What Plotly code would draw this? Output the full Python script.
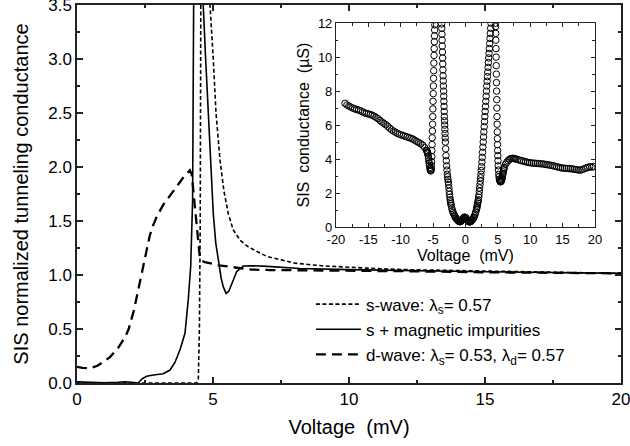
import plotly.graph_objects as go

# ---------------- main panel data (Voltage in mV, normalized conductance) ----------------
s_wave_v = [0, 4.40, 4.46, 4.50, 4.53, 4.55, 4.57, 4.60, 4.70, 4.80, 4.89, 5.01, 5.11, 5.26,
            5.40, 5.56, 5.74, 6.0, 6.3, 6.6, 7.0, 7.5, 8.0, 9.0, 10.0, 11.0, 12.0, 14.0, 16.0,
            18.0, 20.0]
s_wave_g = [0, 0, 0.03, 0.5, 1.5, 3.0, 6.0, 8.0, 5.5, 4.3, 3.5, 3.0, 2.5, 2.06,
            1.78, 1.57, 1.42, 1.32, 1.26, 1.22, 1.17, 1.14, 1.11, 1.085, 1.07, 1.06, 1.05, 1.04, 1.03,
            1.022, 1.015]

smag_v = [0, 0.5, 1.0, 1.5, 1.76, 2.0, 2.25, 2.4, 2.56, 2.75, 2.95, 3.17, 3.42, 3.6, 3.79,
          3.97, 4.09, 4.18, 4.25, 4.28, 4.32, 4.45, 4.55, 4.64, 4.73, 4.83, 4.91, 5.01, 5.1,
          5.2, 5.3, 5.38, 5.48, 5.58, 5.69, 5.87, 6.11, 6.42, 7.0, 7.65, 8.2, 10.0, 12.0,
          15.0, 20.0]
smag_g = [0.01, 0.004, 0.003, 0.006, 0.012, 0.006, 0.0, 0.04, 0.062, 0.072, 0.076, 0.085, 0.12, 0.19, 0.31,
          0.46, 0.77, 1.08, 1.69, 3.5, 5.0, 7.0, 5.0, 3.5, 3.0, 2.5, 2.06, 1.57, 1.3,
          1.11, 0.97, 0.89, 0.83, 0.85, 0.92, 1.03, 1.083, 1.086, 1.08, 1.07, 1.06, 1.05, 1.04,
          1.03, 1.015]

d_wave_v = [0, 0.2, 0.48, 0.75, 1.0, 1.21, 1.5, 1.76, 1.9, 2.0, 2.1, 2.19, 2.28, 2.35, 2.45,
            2.56, 2.68, 2.8, 2.93, 3.17, 3.45, 3.67, 3.9, 4.09, 4.15, 4.22, 4.3, 4.38, 4.46,
            4.52, 4.6, 4.7, 5.2, 5.8, 6.42, 7.1, 8.2, 10.0, 12.0, 15.0, 20.0]
d_wave_g = [0.15, 0.14, 0.136, 0.16, 0.2, 0.24, 0.32, 0.42, 0.5, 0.58, 0.68, 0.79, 0.9, 0.99, 1.12,
            1.25, 1.37, 1.46, 1.54, 1.65, 1.74, 1.82, 1.9, 1.96, 1.97, 1.93, 1.72, 1.45, 1.24,
            1.15, 1.13, 1.12, 1.09, 1.07, 1.05, 1.046, 1.045, 1.04, 1.035, 1.025, 1.015]

# ---------------- inset data (Voltage in mV, SIS conductance in uS) ----------------
inset_v_neg_flat = [-18.6, -18.3, -18.0, -17.7, -17.4, -17.1, -16.8, -16.5, -16.2, -15.9, -15.6,
                    -15.3, -15.0, -14.7, -14.4, -14.1, -13.8, -13.5, -13.2, -12.9, -12.6, -12.3,
                    -12.0, -11.7, -11.4, -11.1, -10.8, -10.5, -10.2, -9.9, -9.6, -9.3, -9.0, -8.7,
                    -8.4, -8.1, -7.8, -7.5, -7.2, -6.9, -6.6, -6.3, -6.0, -5.95, -5.9, -5.85,
                    -5.8, -5.75, -5.7, -5.65, -5.6, -5.55, -5.5, -5.45, -5.4, -5.35]
inset_g_neg_flat = [7.28, 7.18, 7.12, 7.06, 7.00, 6.95, 6.92, 6.88, 6.84, 6.78, 6.72,
                    6.68, 6.66, 6.62, 6.58, 6.52, 6.45, 6.38, 6.28, 6.18, 6.10, 6.02,
                    5.93, 5.82, 5.72, 5.64, 5.58, 5.51, 5.46, 5.42, 5.38, 5.34, 5.30, 5.26,
                    5.22, 5.17, 5.10, 5.03, 4.97, 4.90, 4.82, 4.68, 4.52, 4.48, 4.42, 4.37,
                    4.30, 4.18, 4.05, 3.90, 3.75, 3.62, 3.50, 3.40, 3.33, 3.30]

inset_v_neg_peak = [-5.3, -5.275, -5.25, -5.225, -5.2, -5.175, -5.15, -5.125, -5.1, -5.075,
                    -5.05, -5.025, -5.0, -4.975, -4.95, -4.925, -4.9, -4.875, -4.85, -4.825,
                    -4.8, -4.775, -4.75, -4.725, -4.7, -4.65, -4.6, -4.5, -4.4, -4.2, -4.0,
                    -3.9, -3.8, -3.75, -3.7, -3.675, -3.65, -3.625, -3.6, -3.575, -3.55,
                    -3.525, -3.5, -3.475, -3.45, -3.425, -3.4, -3.375, -3.35, -3.325, -3.3,
                    -3.275, -3.25, -3.225, -3.2, -3.175, -3.15, -3.125, -3.1, -3.05, -3.0,
                    -2.95, -2.9, -2.85, -2.8, -2.75, -2.7, -2.65, -2.6, -2.55, -2.5, -2.45,
                    -2.4, -2.35, -2.3, -2.25, -2.2]
inset_g_neg_peak = [3.35, 3.45, 3.62, 3.85, 4.15, 4.5, 4.85, 5.25, 5.65, 6.05,
                    6.5, 6.95, 7.4, 7.85, 8.3, 8.75, 9.2, 9.65, 10.1, 10.5,
                    10.9, 11.25, 11.6, 11.9, 12.2, 12.6, 13.0, 13.4, 13.8, 14.0, 13.6,
                    13.2, 12.8, 12.5, 12.2, 11.95, 11.7, 11.35, 11.0, 10.65, 10.3,
                    9.95, 9.6, 9.25, 8.9, 8.6, 8.3, 8.0, 7.7, 7.4, 7.1,
                    6.8, 6.5, 6.25, 6.0, 5.75, 5.5, 5.25, 5.0, 4.6, 4.2,
                    3.9, 3.6, 3.35, 3.1, 2.95, 2.8, 2.65, 2.5, 2.3, 2.1, 1.92,
                    1.75, 1.6, 1.48, 1.37, 1.27]

inset_v_center = [-2.1, -2.0, -1.9, -1.8, -1.7, -1.6, -1.5, -1.4, -1.3, -1.2, -1.1, -1.0,
                  -0.9, -0.8, -0.7, -0.6, -0.5, -0.4, -0.3, -0.2, -0.1, 0.0, 0.1, 0.2,
                  0.3, 0.4, 0.5, 0.6, 0.7, 0.8, 0.9, 1.0, 1.1, 1.2, 1.3, 1.4, 1.5, 1.6,
                  1.7, 1.75]
inset_g_center = [1.1, 0.96, 0.85, 0.76, 0.68, 0.60, 0.54, 0.49, 0.44, 0.40, 0.36, 0.33,
                  0.31, 0.31, 0.33, 0.37, 0.42, 0.48, 0.53, 0.57, 0.58, 0.56, 0.52, 0.46,
                  0.40, 0.35, 0.32, 0.30, 0.30, 0.32, 0.35, 0.39, 0.44, 0.50, 0.57, 0.65,
                  0.75, 0.88, 1.03, 1.11]

inset_v_pos_peak = [1.8, 1.85, 1.9, 1.95, 2.0, 2.05, 2.1, 2.15, 2.2, 2.25, 2.3, 2.35, 2.4,
                    2.45, 2.5, 2.55, 2.6, 2.65, 2.7, 2.75, 2.8, 2.85, 2.9, 2.95, 3.0, 3.05,
                    3.1, 3.15, 3.2, 3.25, 3.3, 3.35, 3.4, 3.45, 3.5, 3.55, 3.6, 3.65, 3.7,
                    3.75, 3.8, 3.85, 3.9, 3.95, 4.0, 4.1, 4.2, 4.4, 4.55, 4.6, 4.625, 4.65,
                    4.66, 4.68, 4.7, 4.72, 4.74, 4.76, 4.78, 4.8, 4.82, 4.84, 4.86, 4.88,
                    4.9, 4.92, 4.94, 4.96, 4.98, 5.0, 5.03, 5.06, 5.1, 5.15, 5.2, 5.25,
                    5.3, 5.35, 5.4, 5.45, 5.5, 5.55, 5.6, 5.65, 5.7, 5.75, 5.8, 5.85, 5.9,
                    5.95, 6.0]
inset_g_pos_peak = [1.2, 1.3, 1.4, 1.5, 1.6, 1.75, 1.9, 2.1, 2.3, 2.5, 2.7, 2.9, 3.1,
                    3.32, 3.55, 3.82, 4.1, 4.4, 4.7, 5.0, 5.3, 5.6, 5.9, 6.2, 6.5, 6.8,
                    7.1, 7.4, 7.7, 8.0, 8.3, 8.58, 8.85, 9.12, 9.4, 9.68, 9.95, 10.22, 10.5,
                    10.8, 11.1, 11.4, 11.7, 12.0, 12.3, 12.8, 13.2, 13.6, 13.0, 12.6, 12.3, 12.0,
                    11.8, 11.4, 11.0, 10.5, 10.0, 9.5, 9.0, 8.5, 8.0, 7.5, 7.0, 6.5,
                    6.05, 5.6, 5.2, 4.85, 4.5, 4.2, 3.9, 3.6, 3.35, 3.1, 2.95, 2.82,
                    2.74, 2.69, 2.67, 2.66, 2.68, 2.72, 2.78, 2.86, 2.95, 3.05, 3.15, 3.25, 3.35,
                    3.43, 3.5]

inset_v_pos_flat = [6.2, 6.4, 6.6, 6.8, 7.0, 7.2, 7.4, 7.6, 7.8, 8.1, 8.4, 8.7, 9.0, 9.3,
                    9.6, 9.9, 10.2, 10.5, 10.8, 11.1, 11.4, 11.7, 12.0, 12.3, 12.6, 12.9,
                    13.2, 13.5, 13.8, 14.1, 14.4, 14.7, 15.0, 15.3, 15.6, 15.9, 16.2, 16.5,
                    16.8, 17.1, 17.4, 17.7, 18.0, 18.3, 18.6, 18.9, 19.2, 19.5, 19.8]
inset_g_pos_flat = [3.7, 3.82, 3.9, 3.98, 4.02, 4.04, 4.04, 4.02, 4.0, 3.97, 3.93, 3.9, 3.87, 3.84,
                    3.81, 3.79, 3.77, 3.76, 3.75, 3.74, 3.73, 3.72, 3.71, 3.69, 3.67, 3.65,
                    3.63, 3.61, 3.58, 3.55, 3.52, 3.49, 3.47, 3.46, 3.45, 3.44, 3.43, 3.42,
                    3.40, 3.38, 3.36, 3.35, 3.37, 3.42, 3.47, 3.5, 3.55, 3.52, 3.56]

inset_v = inset_v_neg_flat + inset_v_neg_peak + inset_v_center + inset_v_pos_peak + inset_v_pos_flat
inset_g = inset_g_neg_flat + inset_g_neg_peak + inset_g_center + inset_g_pos_peak + inset_g_pos_flat

main_xticks = [0, 5, 10, 15, 20]
main_yticks = [0.0, 0.5, 1.0, 1.5, 2.0, 2.5, 3.0, 3.5]
main_ytext = ["0.0", "0.5", "1.0", "1.5", "2.0", "2.5", "3.0", "3.5"]
inset_xticks = [-20, -15, -10, -5, 0, 5, 10, 15, 20]
inset_xtext = ["-20", "-15", "-10", "-5", "0", "5", "10", "15", "20"]
inset_yticks = [0, 2, 4, 6, 8, 10, 12]

names = ["s-wave: λ<sub>s</sub>= 0.57",
         "s + magnetic impurities",
         "d-wave: λ<sub>s</sub>= 0.53, λ<sub>d</sub>= 0.57"]

AX = "#222222"
FONT = "Liberation Sans, Arial, sans-serif"

fig = go.Figure()
fig.add_trace(go.Scatter(x=s_wave_v, y=s_wave_g, mode="lines", name=names[0],
                         line=dict(color="black", width=1.6, dash="4px,2.5px")))
fig.add_trace(go.Scatter(x=smag_v, y=smag_g, mode="lines", name=names[1],
                         line=dict(color="black", width=1.6)))
fig.add_trace(go.Scatter(x=d_wave_v, y=d_wave_g, mode="lines", name=names[2],
                         line=dict(color="black", width=2.3, dash="10px,6px")))
fig.add_trace(go.Scatter(x=inset_v, y=inset_g, mode="markers", xaxis="x2", yaxis="y2",
                         showlegend=False,
                         marker=dict(symbol="circle-open", size=6.5, color="black",
                                     line=dict(width=1, color="black"))))

axis_common = dict(showline=True, linecolor=AX, mirror="ticks", ticks="inside",
                   tickcolor=AX, showgrid=False, zeroline=False, automargin=False,
                   ticklabeloverflow="allow")

fig.update_layout(
    width=630, height=446,
    margin=dict(l=77, r=9, t=5, b=63),
    paper_bgcolor="white", plot_bgcolor="white",
    font=dict(family=FONT, color="black"),
    showlegend=True,
    legend=dict(x=0.43, y=0.255, xanchor="left", yanchor="top",
                font=dict(size=17), bgcolor="rgba(0,0,0,0)", itemwidth=45,
                tracegroupgap=0),
    xaxis=dict(**axis_common, range=[0, 20], domain=[0, 1], anchor="y",
               linewidth=1.5, tickwidth=1.5, ticklen=6,
               tickvals=main_xticks, tickfont=dict(size=17),
               minor=dict(dtick=2.5, ticks="inside", ticklen=3.5, tickwidth=1.5, tickcolor=AX),
               title=dict(text="Voltage \u00a0(mV)", font=dict(size=20), standoff=12)),
    yaxis=dict(**axis_common, range=[0, 3.5], domain=[0, 1], anchor="x",
               linewidth=1.5, tickwidth=1.5, ticklen=6,
               tickvals=main_yticks, ticktext=main_ytext, tickfont=dict(size=17),
               minor=dict(dtick=0.25, ticks="inside", ticklen=3.5, tickwidth=1.5, tickcolor=AX),
               title=dict(text="SIS normalized tunneling conductance", font=dict(size=20),
                          standoff=14)),
    xaxis2=dict(**axis_common, range=[-20, 20], domain=[0.476, 0.952], anchor="y2",
                linewidth=1, tickwidth=1, ticklen=4,
                tickvals=inset_xticks, ticktext=inset_xtext, tickfont=dict(size=13),
                minor=dict(dtick=2.5, ticks="inside", ticklen=2.5, tickwidth=1, tickcolor=AX),
                title=dict(text="Voltage \u00a0(mV)", font=dict(size=16), standoff=3)),
    yaxis2=dict(**axis_common, range=[0, 12], domain=[0.4127, 0.952], anchor="x2",
                linewidth=1, tickwidth=1, ticklen=4,
                tickvals=inset_yticks, tickfont=dict(size=13),
                minor=dict(dtick=1, ticks="inside", ticklen=2.5, tickwidth=1, tickcolor=AX),
                title=dict(text="SIS \u00a0conductance \u00a0(µS)", font=dict(size=16),
                           standoff=4)),
)

fig.write_html("out.html", config={"displayModeBar": False},
               post_script="document.body.style.margin='0px';")
